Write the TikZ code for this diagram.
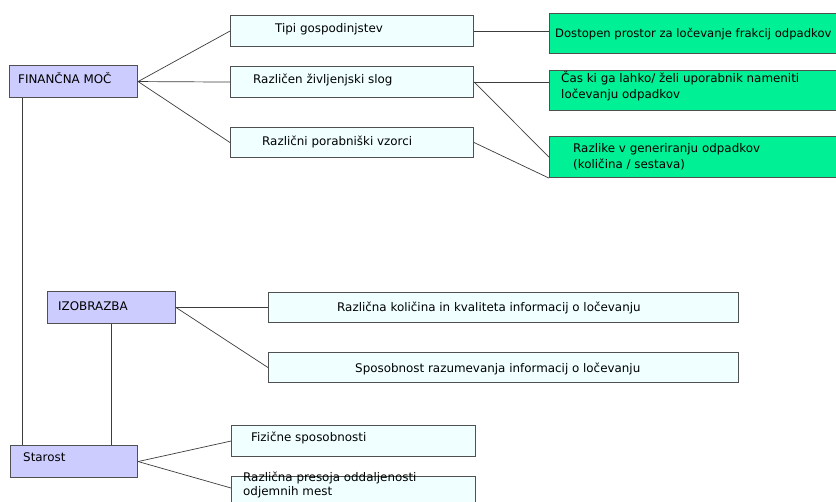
\documentclass[tikz,border=0pt]{standalone}
\usepackage{fontspec}
\setmainfont{DejaVu Sans}
\begin{document}
\definecolor{mainfill}{RGB}{204,204,255}
\definecolor{subfill}{RGB}{240,255,255}
\definecolor{effectfill}{RGB}{0,240,150}
\definecolor{edgegray}{RGB}{80,80,80}
\definecolor{linegray}{RGB}{60,60,60}
\begin{tikzpicture}[x=1pt,y=-1pt,
  boxbase/.style={draw=edgegray,line width=1.1pt,rectangle,anchor=north west,inner sep=0pt},
  mainbox/.style={boxbase,fill=mainfill},
  subbox/.style={boxbase,fill=subfill},
  effectbox/.style={boxbase,fill=effectfill},
  lbl/.style={anchor=base west,inner sep=0pt,font=\fontsize{11.9}{16}\selectfont,align=left},
  conn/.style={draw=linegray,line width=0.7pt}]
\clip (0,0) rectangle (836,502);
\fill[white] (0,0) rectangle (836,502);

% main factors
\node[mainbox,minimum width=128pt,minimum height=32pt] (fin) at (9,65) {};
\node[mainbox,minimum width=128pt,minimum height=32pt] (izo) at (47,291) {};
\node[mainbox,minimum width=127pt,minimum height=32pt] (star) at (10,445) {};

% second level
\node[subbox,minimum width=243pt,minimum height=31pt] (tipi) at (230,15) {};
\node[subbox,minimum width=243pt,minimum height=31pt] (slog) at (230,66) {};
\node[subbox,minimum width=243pt,minimum height=30pt] (vzorci) at (230,127) {};
\node[subbox,minimum width=470pt,minimum height=30pt] (kol) at (268,292) {};
\node[subbox,minimum width=470pt,minimum height=30pt] (spos) at (268,352) {};
\node[subbox,minimum width=244pt,minimum height=31pt] (fiz) at (231,425) {};
\node[subbox,minimum width=244pt,minimum height=40pt] (pres) at (231,476) {};

% effects
\node[effectbox,minimum width=300pt,minimum height=40pt] (prostor) at (549,13) {};
\node[effectbox,minimum width=300pt,minimum height=40pt] (cas) at (549,70) {};
\node[effectbox,minimum width=300pt,minimum height=41pt] (razlike) at (549,136) {};

% labels (two-line labels are placed by the baseline of their last line)
\node[lbl] (tfin) at (18,84) {FINANČNA MOČ};
\node[lbl] (tizo) at (58,311) {IZOBRAZBA};
\node[lbl] (tstar) at (23,462) {Starost};
\node[lbl] (ttipi) at (275,33) {Tipi gospodinjstev};
\node[lbl] (tslog) at (253,84) {Različen življenjski slog};
\node[lbl] (tvzorci) at (262,146) {Različni porabniški vzorci};
\node[lbl] (tkol) at (337,312) {Različna količina in kvaliteta informacij o ločevanju};
\node[lbl] (tspos) at (355,373) {Sposobnost razumevanja informacij o ločevanju};
\node[lbl] (tfiz) at (251,442) {Fizične sposobnosti};
\node[lbl,font=\fontsize{11.9}{14}\selectfont] (tpres) at (243,496) {Različna presoja oddaljenosti\\odjemnih mest};
\node[lbl,font=\fontsize{11.6}{16}\selectfont] (tprostor) at (555,38) {Dostopen prostor za ločevanje frakcij odpadkov};
\node[lbl] (tcas) at (561,99) {Čas ki ga lahko/ želi uporabnik nameniti\\ločevanju odpadkov};
\node[lbl] (trazlike) at (573,169) {Razlike v generiranju odpadkov\\(količina / sestava)};

% connectors
\draw[conn] (fin.east) -- (tipi.west);
\draw[conn] (fin.east) -- (slog.west);
\draw[conn] (fin.east) -- (vzorci.west);
\draw[conn] (tipi.east) -- (tipi.east -| prostor.west);
\draw[conn] (slog.east) -- (slog.east -| cas.west);
\draw[conn] (slog.east) -- (razlike.west);
\draw[conn] (vzorci.east) -- (razlike.south west);
\draw[conn] ([xshift=13pt]fin.south west) -- ([xshift=13pt]fin.south west |- star.north);
\draw[conn] (izo.south) -- (izo.south |- star.north);
\draw[conn] (izo.east) -- (kol.west);
\draw[conn] (izo.east) -- (spos.west);
\draw[conn] (star.east) -- (fiz.west);
\draw[conn] (star.east) -- ([yshift=-12pt]pres.north west);
\end{tikzpicture}
\end{document}
